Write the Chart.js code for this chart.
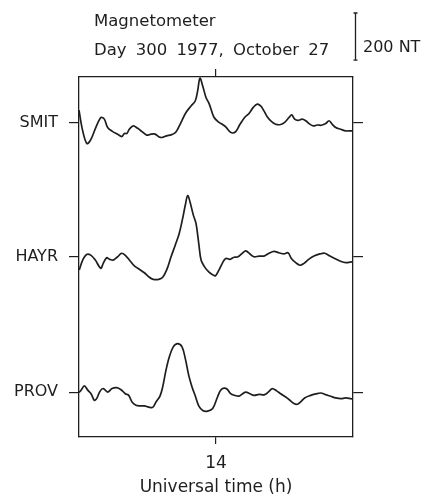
<!DOCTYPE html>
<html>
<head>
<meta charset="utf-8">
<script src="https://cdn.jsdelivr.net/npm/chart.js@4.4.1/dist/chart.umd.min.js"></script>
<style>
  html, body { margin: 0; padding: 0; background: #fff; }
  #wrap { width: 433px; height: 496px; }
</style>
</head>
<body>
<div id="wrap"><canvas id="mag" width="433" height="496"></canvas></div>
<script>
// Stations, top to bottom
const stations = ['SMIT', 'HAYR', 'PROV'];

// Universal time (h) of each sample and horizontal field change (nT) per station
const smitTime = [13.000, 13.027, 13.058, 13.088, 13.124, 13.161, 13.185, 13.209, 13.246, 13.282, 13.312, 13.331, 13.350, 13.367, 13.396, 13.428, 13.460, 13.494, 13.526, 13.555, 13.586, 13.606, 13.640, 13.672, 13.703, 13.720, 13.745, 13.781, 13.818, 13.849, 13.866, 13.883, 13.903, 13.927, 13.951, 13.985, 14.022, 14.046, 14.071, 14.095, 14.119, 14.144, 14.175, 14.209, 14.241, 14.272, 14.301, 14.326, 14.350, 14.374, 14.404, 14.436, 14.472, 14.501, 14.533, 14.553, 14.574, 14.599, 14.630, 14.655, 14.679, 14.710, 14.739, 14.769, 14.801, 14.825, 14.849, 14.874, 14.910, 14.947, 14.983, 15.000];
const smitNT = [54, -34, -88, -69, -18, 23, 16, -20, -37, -48, -58, -45, -45, -27, -13, -23, -37, -52, -48, -48, -60, -62, -55, -51, -41, -27, 2, 44, 72, 94, 136, 190, 157, 108, 80, 24, 2, -6, -17, -34, -43, -37, -6, 23, 40, 66, 80, 72, 51, 26, 6, -6, -7, 2, 23, 34, 16, 11, 16, 9, -3, -13, -9, -10, -3, 9, -6, -20, -27, -34, -34, -34];

const hayrTime = [13.002, 13.027, 13.056, 13.088, 13.119, 13.148, 13.161, 13.177, 13.202, 13.221, 13.250, 13.282, 13.312, 13.343, 13.372, 13.404, 13.440, 13.477, 13.509, 13.542, 13.582, 13.611, 13.640, 13.672, 13.703, 13.732, 13.757, 13.776, 13.793, 13.810, 13.834, 13.854, 13.874, 13.891, 13.915, 13.947, 13.980, 13.996, 14.022, 14.046, 14.071, 14.102, 14.131, 14.161, 14.192, 14.217, 14.248, 14.277, 14.314, 14.350, 14.387, 14.423, 14.460, 14.496, 14.526, 14.550, 14.582, 14.613, 14.642, 14.679, 14.715, 14.759, 14.793, 14.832, 14.866, 14.905, 14.947, 14.988, 15.000];
const hayrNT = [-55, -13, 11, 7, -13, -41, -48, -27, -3, -9, -13, 1, 16, 4, -16, -38, -52, -67, -84, -95, -95, -86, -55, 1, 51, 101, 165, 221, 261, 235, 179, 143, 58, -13, -41, -63, -77, -80, -55, -27, -6, -10, -1, 1, 16, 26, 13, 1, 4, 4, 16, 24, 18, 13, 18, -6, -24, -35, -27, -9, 4, 13, 16, 4, -6, -17, -24, -21, -23];

const provTime = [13.000, 13.015, 13.039, 13.064, 13.088, 13.112, 13.129, 13.153, 13.177, 13.209, 13.241, 13.275, 13.307, 13.338, 13.363, 13.387, 13.416, 13.445, 13.477, 13.509, 13.538, 13.562, 13.591, 13.611, 13.635, 13.659, 13.688, 13.720, 13.752, 13.776, 13.801, 13.825, 13.849, 13.874, 13.903, 13.939, 13.976, 14.011, 14.034, 14.058, 14.082, 14.107, 14.136, 14.168, 14.192, 14.217, 14.248, 14.277, 14.314, 14.355, 14.387, 14.411, 14.443, 14.472, 14.509, 14.540, 14.569, 14.593, 14.618, 14.647, 14.691, 14.728, 14.764, 14.801, 14.837, 14.874, 14.910, 14.947, 14.983, 15.000];
const provNT = [-1, 9, 27, 9, -6, -34, -27, 4, 16, 1, 16, 20, 11, -6, -13, -41, -55, -58, -58, -63, -64, -41, -16, 23, 94, 150, 193, 207, 193, 143, 72, 23, -16, -58, -77, -80, -69, -20, 9, 18, 13, -6, -13, -16, -7, 1, -6, -13, -9, -10, 4, 16, 6, -6, -20, -34, -48, -51, -41, -24, -13, -7, -3, -10, -17, -24, -27, -24, -27, -29];

// Time axis tick labels (h)
const timeTicks = [14];

// Length of the amplitude scale bar (nT)
const scaleBarNT = 200;

// Vertical separation of the stacked traces (nT)
const traceOffsets = [1145, 575, 0];

const INK = '#1e1e1e';
const FONT = "'DejaVu Sans', sans-serif";

const seriesTimes = [smitTime, hayrTime, provTime];
const seriesValues = [smitNT, hayrNT, provNT];

const datasets = stations.map((name, i) => ({
  label: name,
  data: seriesTimes[i].map((t, j) => ({ x: t, y: seriesValues[i][j] + traceOffsets[i] })),
  borderColor: INK,
  borderWidth: 1.7,
  pointRadius: 0,
  tension: 0.35,
  fill: false
}));

const frameGrid = { drawOnChartArea: false, drawTicks: true, color: INK, lineWidth: 1.2 };
const frameBorder = { display: true, color: INK, width: 1.3 };
const stationTicks = s => { s.ticks = traceOffsets.map(v => ({ value: v })); };
const timeTickBuilder = s => { s.ticks = timeTicks.map(v => ({ value: v })); };

// Header text and the amplitude scale bar drawn above the frame
const headerPlugin = {
  id: 'header',
  afterDraw(chart) {
    const c = chart.ctx;
    const ys = chart.scales.y;
    const barLen = ys.getPixelForValue(0) - ys.getPixelForValue(scaleBarNT);
    c.save();
    c.fillStyle = INK;
    c.font = '16.5px ' + FONT;
    c.textBaseline = 'alphabetic';
    c.textAlign = 'left';
    c.fillText('Magnetometer', 94, 26);
    if ('wordSpacing' in c) c.wordSpacing = '4px';
    c.fillText('Day 300 1977, October 27', 94, 55);
    if ('wordSpacing' in c) c.wordSpacing = '0px';
    c.font = '16px ' + FONT;
    c.fillText('200 NT', 363, 52);

    const bx = 355.5, top = 13;
    c.strokeStyle = INK;
    c.lineWidth = 1.3;
    c.beginPath();
    c.moveTo(bx, top); c.lineTo(bx, top + barLen);
    c.moveTo(bx - 2, top); c.lineTo(bx + 2, top);
    c.moveTo(bx - 2, top + barLen); c.lineTo(bx + 2, top + barLen);
    c.stroke();
    c.restore();
  }
};

new Chart(document.getElementById('mag'), {
  type: 'line',
  data: { datasets },
  plugins: [headerPlugin],
  options: {
    responsive: false,
    animation: false,
    layout: { padding: 0 },
    plugins: { legend: { display: false }, tooltip: { enabled: false }, title: { display: false } },
    scales: {
      x: {
        type: 'linear', position: 'bottom', min: 13, max: 15,
        afterBuildTicks: timeTickBuilder,
        afterFit: s => { s.height = 59; },
        grid: Object.assign({}, frameGrid, { tickLength: 7 }),
        border: frameBorder,
        ticks: { color: INK, font: { family: FONT, size: 17 }, padding: 9, maxRotation: 0, callback: v => String(v) },
        title: { display: true, text: 'Universal time (h)', color: INK, font: { family: FONT, size: 17, lineHeight: 1.0 }, padding: { top: 0, bottom: 0 } }
      },
      xTop: {
        type: 'linear', position: 'top', min: 13, max: 15,
        afterBuildTicks: timeTickBuilder,
        afterFit: s => { s.height = 77; },
        grid: Object.assign({}, frameGrid, { tickLength: 8 }),
        border: frameBorder,
        ticks: { display: false }
      },
      y: {
        type: 'linear', position: 'left', min: -190, max: 1340,
        afterBuildTicks: stationTicks,
        afterFit: s => { s.width = 79; },
        grid: Object.assign({}, frameGrid, { tickLength: 10 }),
        border: frameBorder,
        ticks: {
          color: INK, font: { family: FONT, size: 16 }, padding: 11,
          callback: v => stations[traceOffsets.indexOf(v)]
        }
      },
      yRight: {
        type: 'linear', position: 'right', min: -190, max: 1340,
        afterBuildTicks: stationTicks,
        afterFit: s => { s.width = 80; },
        grid: Object.assign({}, frameGrid, { tickLength: 10 }),
        border: frameBorder,
        ticks: { display: false }
      }
    }
  }
});
</script>
</body>
</html>
